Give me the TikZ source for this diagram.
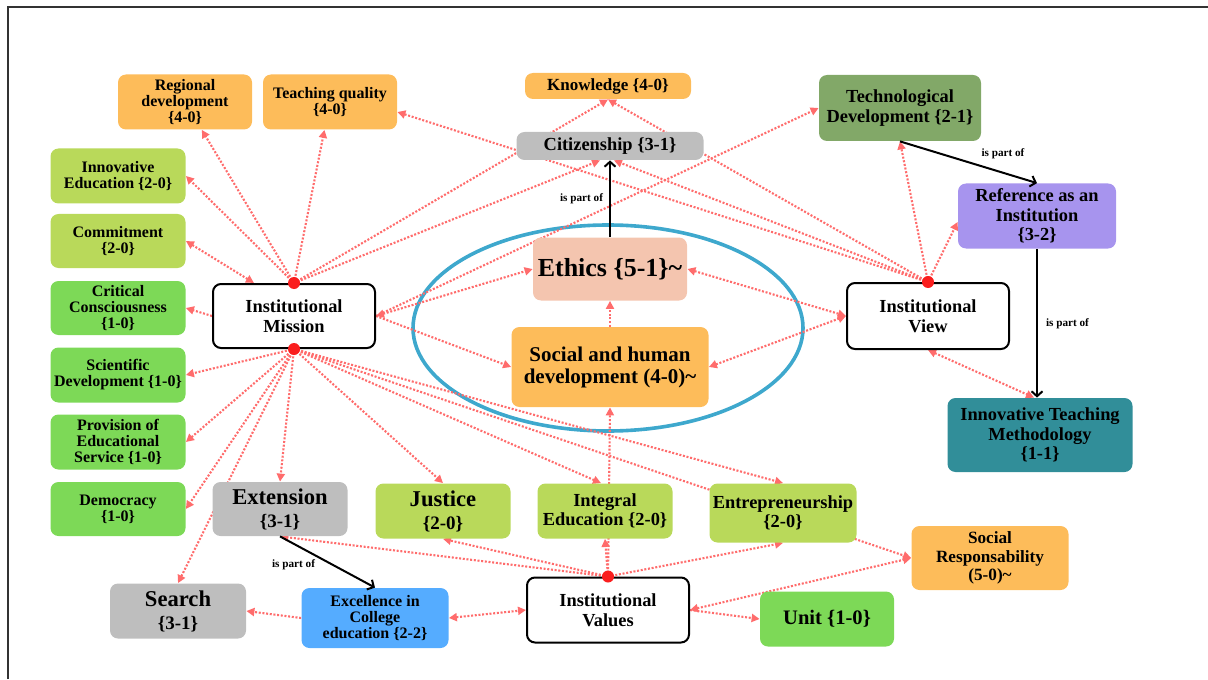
\documentclass[tikz,border=0pt]{standalone}
\usepackage{fontspec}
\setmainfont{Liberation Serif}
\usetikzlibrary{arrows.meta,backgrounds}
\definecolor{orangebox}{RGB}{253,188,90}
\definecolor{graybox}{RGB}{190,190,190}
\definecolor{limebox}{RGB}{185,217,90}
\definecolor{greenbox}{RGB}{125,217,87}
\definecolor{olivebox}{RGB}{130,168,104}
\definecolor{purplebox}{RGB}{167,148,238}
\definecolor{peachbox}{RGB}{244,197,175}
\definecolor{bluebox}{RGB}{85,172,255}
\definecolor{tealbox}{RGB}{49,142,153}
\definecolor{ringblue}{RGB}{62,168,205}
\definecolor{linkred}{RGB}{255,108,108}
\definecolor{hubred}{RGB}{250,30,30}
\newcommand{\numtag}[1]{{\fontsize{9.5}{9.5}\selectfont\{#1\}}}
\tikzset{
  concept/.style={rounded corners=4pt,align=center,inner sep=1pt,font=\bfseries},
  plainbox/.style={concept,draw=black,line width=1pt,fill=white},
  dims/.style 2 args={minimum width=#1,minimum height=#2},
  smalltext/.style={font=\bfseries\fontsize{8}{8}\selectfont},
  midtext/.style={font=\bfseries\fontsize{9.2}{9.8}\selectfont},
  bigtext/.style={font=\bfseries\fontsize{11.3}{11.5}\selectfont},
  parttext/.style={font=\bfseries\fontsize{5.6}{6}\selectfont,inner sep=1pt},
  link/.style={draw=linkred,line width=1.05pt,dash pattern=on 1pt off 0.85pt},
  partof/.style={draw=black,line width=1pt,-{Straight Barb[length=2.5pt,width=5.5pt]}},
  ring/.style={draw=ringblue,line width=1.8pt},
  frame/.style={draw=black!80,line width=0.9pt}
}

\begin{document}
\begin{tikzpicture}[x=0.5pt,y=-0.5pt,>={Triangle[length=4pt,width=4pt]}]
  \useasboundingbox (0,0) rectangle (1208,679);
  \draw[frame] (8,679) -- (8,7) -- (1208,7);

  \node[concept,fill=orangebox,smalltext,dims={67pt}{27.5pt}] (regdev) at (185,102) {Regional\\development\\\{4-0\}};
  \node[concept,fill=orangebox,smalltext,dims={67pt}{27.5pt}] (teachq) at (330,102) {Teaching quality\\\{4-0\}};
  \node[concept,fill=orangebox,font=\bfseries\fontsize{8.5}{9}\selectfont,dims={83pt}{13pt}] (knowl) at (608,86) {Knowledge \{4-0\}};
  \node[concept,fill=graybox,midtext,dims={93.5pt}{14pt}] (citiz) at (610,146) {Citizenship \{3-1\}};
  \node[concept,fill=olivebox,midtext,dims={81pt}{33pt}] (techdev) at (900,108) {Technological\\Development \{2-1\}};
  \node[concept,fill=purplebox,midtext,dims={79pt}{32.5pt}] (refinst) at (1037,216) {Reference as an\\Institution\\\{3-2\}};
  \node[concept,fill=limebox,smalltext,dims={67.5pt}{27.5pt}] (innoved) at (118,176) {Innovative\\Education \{2-0\}};
  \node[concept,fill=limebox,smalltext,dims={67.5pt}{27pt}] (commit) at (118,241) {Commitment\\\{2-0\}};
  \node[concept,fill=greenbox,smalltext,dims={67.5pt}{27pt}] (critic) at (118,308) {Critical\\Consciousness\\\{1-0\}};
  \node[concept,fill=greenbox,smalltext,dims={67.5pt}{27.5pt}] (scient) at (118,375) {Scientific\\Development \{1-0\}};
  \node[concept,fill=greenbox,smalltext,dims={67.5pt}{27.5pt}] (provis) at (118,442) {Provision of\\Educational\\Service \{1-0\}};
  \node[concept,fill=greenbox,smalltext,dims={67.5pt}{27pt}] (democ) at (118,509) {Democracy\\\{1-0\}};
  \node[plainbox,midtext,dims={81pt}{32pt}] (mission) at (294,316) {Institutional\\Mission};
  \node[concept,fill=graybox,bigtext,dims={67.5pt}{27pt}] (extens) at (280,509) {Extension\\\numtag{3-1}};
  \node[concept,fill=limebox,bigtext,dims={67.5pt}{27.5pt}] (justice) at (443,511) {Justice\\\numtag{2-0}};
  \node[concept,fill=limebox,midtext,dims={67.5pt}{27.5pt}] (integ) at (605,511) {Integral\\Education \{2-0\}};
  \node[concept,fill=limebox,midtext,dims={73.5pt}{29.5pt}] (entrep) at (783,513) {Entrepreneurship\\\{2-0\}};
  \node[concept,fill=graybox,bigtext,dims={68pt}{27.5pt}] (search) at (178,611) {Search\\\numtag{3-1}};
  \node[concept,fill=bluebox,smalltext,dims={73.5pt}{30pt}] (excel) at (375,618) {Excellence in\\College\\education \{2-2\}};
  \node[plainbox,midtext,dims={81pt}{32.5pt}] (values) at (608,610) {Institutional\\Values};
  \node[concept,fill=greenbox,font=\bfseries\fontsize{10.3}{11}\selectfont,dims={67pt}{27.5pt}] (unit) at (827,619) {Unit \{1-0\}};
  \node[concept,fill=orangebox,font=\bfseries\fontsize{8.6}{9.2}\selectfont,dims={78.5pt}{32pt}] (socresp) at (990,558) {Social\\Responsability\\(5-0)\textasciitilde};
  \node[concept,fill=peachbox,font=\bfseries\fontsize{13}{14}\selectfont,dims={77pt}{31.5pt}] (ethics) at (610,269) {Ethics \{5-1\}\textasciitilde};
  \node[concept,fill=orangebox,font=\bfseries\fontsize{10.5}{11}\selectfont,dims={98.5pt}{40pt}] (shd) at (610,367) {Social and human\\development (4-0)\textasciitilde};
  \node[plainbox,midtext,dims={81pt}{33pt}] (view) at (928,316) {Institutional\\View};
  \node[concept,fill=tealbox,midtext,dims={92.5pt}{37pt}] (itm) at (1040,435) {Innovative Teaching\\Methodology\\\{1-1\}};

  \begin{scope}[on background layer]
    \draw[ring] (608,328) ellipse [x radius=97.5pt,y radius=51.5pt];
    \draw[link,->] (mission.north) -- (regdev);
    \draw[link,->] (mission.north) -- (teachq);
    \draw[link,->] (mission.north) -- (innoved.east);
    \draw[link,<->] (commit.east) -- ([xshift=-20pt]mission.north);
    \draw[link,->] (mission.north) -- (knowl.south);
    \draw[link,->] (mission.north) -- ([xshift=-5pt]citiz.south);
    \draw[link,->] (mission.west) -- (critic.east);
    \draw[link,->] (mission.south) -- (scient.east);
    \draw[link,->] (mission.south) -- (provis.east);
    \draw[link,->] (mission.south) -- (democ.east);
    \draw[link,->] (mission.south) -- (search.north);
    \draw[link,->] (mission.south) -- (extens.north);
    \draw[link,->] (mission.south) -- (justice.north);
    \draw[link,->] (mission.south) -- ([xshift=-2pt]integ.north);
    \draw[link,->] (mission.south) -- (entrep.north);
    \draw[link,->] (mission.south) -- (socresp.west);
    \draw[link,<->] (mission.east) -- (ethics.west);
    \draw[link,->] (mission.east) -- (techdev.west);
    \draw[link,->] (mission.east) -- (shd.west);
    \draw[link,->] (view.north) -- ([yshift=-5pt]teachq.east);
    \draw[link,->] (view.north) -- (knowl.south);
    \draw[link,->] (view.north) -- ([xshift=2pt]citiz.south);
    \draw[link,->] (view.north) -- (techdev.south);
    \draw[link,->] (view.north) -- ([yshift=-3pt]refinst.west);
    \draw[link,<->] (ethics.east) -- (view.west);
    \draw[link,<->] (shd.east) -- (view.west);
    \draw[link,<->] (view.south) -- ([xshift=-3pt]itm.north);
    \draw[link,->] (shd.north) -- (ethics.south);
    \draw[link,->] (values.north) -- (shd.south);
    \draw[link,->] (values.north) -- (integ.south);
    \draw[link,->] (values.north) -- (extens.south);
    \draw[link,->] (values.north) -- (justice.south);
    \draw[link,->] (values.north) -- (entrep.south);
    \draw[link,<->] (excel.east) -- (values.west);
    \draw[link,->] (excel.west) -- (search.east);
    \draw[link,<->] (values.east) -- (socresp.west);
    \draw[link,->] (values.east) -- (unit.west);
  \end{scope}

  \fill[hubred] (mission.north) circle (3pt);
  \fill[hubred] (mission.south) circle (3pt);
  \fill[hubred] (view.north) circle (3pt);
  \fill[hubred] (values.north) circle (3pt);

  \draw[partof] (ethics.north) -- (citiz.south) node[midway,left=2pt,parttext]{is part of};
  \draw[partof] (techdev.south) -- (refinst.north) node[midway,above right,xshift=5pt,parttext]{is part of};
  \draw[partof] (refinst.south) -- (refinst.south |- itm.north) node[midway,right=3pt,parttext]{is part of};
  \draw[partof] (extens.south) -- (excel.north) node[pos=0.4,below left,parttext]{is part of};
\end{tikzpicture}
\end{document}
